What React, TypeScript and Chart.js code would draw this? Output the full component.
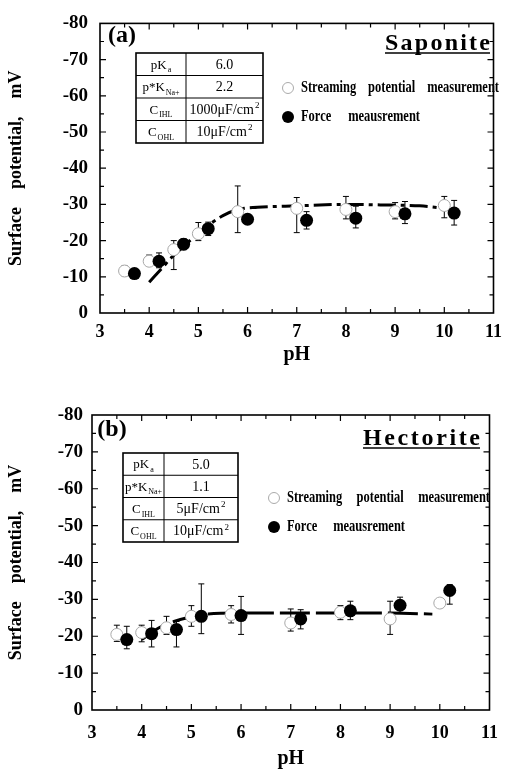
import React, { useEffect, useRef } from "react";
import { Chart, registerables } from "chart.js";

Chart.register(...registerables);

const FONT = "'Liberation Serif', 'Times New Roman', serif";

// ---------- shared axis ticks ----------
const xTickValues = [3, 4, 5, 6, 7, 8, 9, 10, 11];
const yTickValues = [0, -10, -20, -30, -40, -50, -60, -70, -80];
const xTitle = "pH";
const yTitle = "Surface    potential,    mV";
const legendStreaming = ["Streaming", "potential", "measurement"];
const legendForce = ["Force", "meausrement"];

// ---------- (a) Saponite ----------
const sapStreamPH = [3.5, 4.0, 4.5, 5.0, 5.8, 7.0, 8.0, 9.0, 10.0];
const sapStreamMV = [-11.6, -14.3, -17.5, -21.9, -28.0, -28.9, -28.6, -28.0, -29.7];
const sapStreamHi = [-13.0, -16.0, -20.0, -25.0, -35.1, -31.9, -32.2, -30.5, -32.2];
const sapStreamLo = [-10.3, -13.3, -12.0, -20.0, -22.2, -22.2, -26.0, -26.0, -26.3];

const sapForcePH = [3.7, 4.2, 4.7, 5.2, 6.0, 7.2, 8.2, 9.2, 10.2];
const sapForceMV = [-10.9, -14.3, -19.0, -23.3, -25.9, -25.6, -26.2, -27.4, -27.6];
const sapForceHi = [-11.6, -16.6, -20.5, -25.1, -26.5, -28.0, -29.5, -30.8, -31.1];
const sapForceLo = [-10.3, -12.5, -17.5, -21.4, -25.3, -23.2, -23.5, -24.7, -24.3];

const sapFitPH = [4.0, 4.3, 4.45, 4.7, 4.95, 5.2, 5.5, 5.8, 6.2, 7.0, 8.0, 8.9, 9.5, 9.95];
const sapFitMV = [-8.5, -13.0, -15.3, -18.4, -21.5, -24.2, -26.9, -28.6, -29.2, -29.6, -30.0, -29.8, -29.6, -29.0];

const sapTableLeft = [["pK", "a"], ["p*K", "Na+"], ["C", "IHL"], ["C", "OHL"]];
const sapTableRight = [["6.0", ""], ["2.2", ""], ["1000μF/cm", "2"], ["10μF/cm", "2"]];

// ---------- (b) Hectorite ----------
const hecStreamPH = [3.5, 4.0, 4.5, 5.0, 5.8, 7.0, 8.0, 9.0, 10.0];
const hecStreamMV = [-20.5, -21.0, -22.3, -25.4, -25.9, -23.6, -26.5, -24.7, -29.0];
const hecStreamHi = [-23.0, -23.0, -25.4, -28.3, -28.3, -27.4, -28.3, -29.5, -30.0];
const hecStreamLo = [-18.6, -18.5, -20.5, -22.7, -23.6, -21.4, -24.5, -20.5, -28.0];

const hecForcePH = [3.7, 4.2, 4.7, 5.2, 6.0, 7.2, 8.2, 9.2, 10.2];
const hecForceMV = [-19.1, -20.7, -21.8, -25.4, -25.6, -24.7, -26.9, -28.4, -32.4];
const hecForceHi = [-22.7, -24.3, -24.0, -34.2, -30.8, -27.2, -29.5, -30.6, -34.0];
const hecForceLo = [-16.6, -17.1, -17.1, -20.7, -20.5, -22.0, -24.5, -26.3, -28.7];

const hecFitPH = [4.0, 4.35, 4.65, 5.0, 5.3, 6.0, 7.0, 8.0, 9.0, 9.85];
const hecFitMV = [-19.1, -22.3, -24.0, -25.3, -26.0, -26.3, -26.3, -26.3, -26.3, -26.0];

const hecTableLeft = [["pK", "a"], ["p*K", "Na+"], ["C", "IHL"], ["C", "OHL"]];
const hecTableRight = [["5.0", ""], ["1.1", ""], ["5μF/cm", "2"], ["10μF/cm", "2"]];

// ---------- helpers ----------
type Pair = string[];

function drawRich(ctx: CanvasRenderingContext2D, pair: Pair, cx: number, cy: number, size: number, isSup: boolean) {
  const small = Math.round(size * 0.65);
  ctx.font = `${size}px ${FONT}`;
  const w1 = ctx.measureText(pair[0]).width;
  ctx.font = `${small}px ${FONT}`;
  const w2 = pair[1] ? ctx.measureText(pair[1]).width + 1 : 0;
  let x = cx - (w1 + w2) / 2;
  const base = cy + size * 0.33;
  ctx.textAlign = "left";
  ctx.textBaseline = "alphabetic";
  ctx.fillStyle = "#000";
  ctx.font = `${size}px ${FONT}`;
  ctx.fillText(pair[0], x, base);
  x += w1 + 1;
  if (pair[1]) {
    ctx.font = `${small}px ${FONT}`;
    ctx.fillText(pair[1], x, base + (isSup ? -size * 0.42 : size * 0.28));
  }
}

function drawJustified(ctx: CanvasRenderingContext2D, words: string[], x0: number, x1: number, y: number, font: string, sx: number) {
  ctx.font = font;
  const widths = words.map((w) => ctx.measureText(w).width * sx);
  const total = widths.reduce((a, b) => a + b, 0);
  const gap = words.length > 1 ? (x1 - x0 - total) / (words.length - 1) : 0;
  let x = x0;
  ctx.textAlign = "left";
  ctx.textBaseline = "middle";
  ctx.fillStyle = "#000";
  words.forEach((w, i) => {
    ctx.save();
    ctx.translate(x, y);
    ctx.scale(sx, 1);
    ctx.fillText(w, 0, 0);
    ctx.restore();
    x += widths[i] + gap;
  });
}

function drawSpaced(ctx: CanvasRenderingContext2D, text: string, x0: number, x1: number, baseline: number, font: string) {
  ctx.font = font;
  const chars = text.split("");
  const widths = chars.map((c) => ctx.measureText(c).width);
  const total = widths.reduce((a, b) => a + b, 0);
  const gap = (x1 - x0 - total) / (chars.length - 1);
  let x = x0;
  ctx.textAlign = "left";
  ctx.textBaseline = "alphabetic";
  ctx.fillStyle = "#000";
  chars.forEach((c, i) => {
    ctx.fillText(c, x, baseline);
    x += widths[i] + gap;
  });
  ctx.strokeStyle = "#000";
  ctx.lineWidth = 1.6;
  ctx.beginPath();
  ctx.moveTo(x0, baseline + 3);
  ctx.lineTo(x1, baseline + 3);
  ctx.stroke();
}

interface Spec {
  height: number;
  padTop: number;
  padRight: number;
  yWidth: number;
  xHeight: number;
  xTitlePad: number;
  yTickPad: number;
  xTickPad: number;
  streamX: number[]; streamY: number[]; streamHi: number[]; streamLo: number[];
  forceX: number[]; forceY: number[]; forceHi: number[]; forceLo: number[];
  fitX: number[]; fitY: number[]; fitDash: number[];
  tableLeft: Pair[]; tableRight: Pair[];
  table: { x0: number; x1: number; split: number; y0: number; y1: number };
  legend: { cx: number; tx0: number; tx1: number; tx1b: number; y1: number; y2: number };
  name: { text: string; x0: number; x1: number; baseline: number };
  label: { text: string; cx: number; cy: number };
}

function makeConfig(s: Spec): any {
  const decor = {
    id: "decor",
    beforeDatasetsDraw(chart: any) {
      const ctx = chart.ctx as CanvasRenderingContext2D;
      const xs = chart.scales.x;
      const ys = chart.scales.y;
      ctx.save();
      ctx.strokeStyle = "#000";
      ctx.lineWidth = 1;
      const bars = (px: number[], hi: number[], lo: number[]) => {
        px.forEach((xv, i) => {
          const x = xs.getPixelForValue(xv);
          const yh = ys.getPixelForValue(hi[i]);
          const yl = ys.getPixelForValue(lo[i]);
          ctx.beginPath();
          ctx.moveTo(x, yh);
          ctx.lineTo(x, yl);
          ctx.moveTo(x - 3, yh);
          ctx.lineTo(x + 3, yh);
          ctx.moveTo(x - 3, yl);
          ctx.lineTo(x + 3, yl);
          ctx.stroke();
        });
      };
      bars(s.streamX, s.streamHi, s.streamLo);
      bars(s.forceX, s.forceHi, s.forceLo);
      ctx.restore();
    },
    afterDraw(chart: any) {
      const ctx = chart.ctx as CanvasRenderingContext2D;
      const a = chart.chartArea;
      const xs = chart.scales.x;
      const ys = chart.scales.y;
      ctx.save();
      // frame
      ctx.strokeStyle = "#000";
      ctx.lineWidth = 1.6;
      ctx.strokeRect(a.left, a.top, a.right - a.left, a.bottom - a.top);
      // inward tick marks
      ctx.lineWidth = 1.2;
      ctx.beginPath();
      for (let v = xs.min; v <= xs.max + 1e-6; v += 0.5) {
        if (v === xs.min || v === xs.max) continue;
        const x = xs.getPixelForValue(v);
        const len = Math.abs(v - Math.round(v)) < 1e-6 ? 6 : 4;
        ctx.moveTo(x, a.bottom);
        ctx.lineTo(x, a.bottom - len);
        ctx.moveTo(x, a.top);
        ctx.lineTo(x, a.top + len);
      }
      for (let v = -80; v <= 0; v += 5) {
        if (v === -80 || v === 0) continue;
        const y = ys.getPixelForValue(v);
        const len = v % 10 === 0 ? 6 : 4;
        ctx.moveTo(a.left, y);
        ctx.lineTo(a.left + len, y);
        ctx.moveTo(a.right, y);
        ctx.lineTo(a.right - len, y);
      }
      ctx.stroke();

      // panel label
      ctx.fillStyle = "#000";
      ctx.font = `bold 24px ${FONT}`;
      ctx.textAlign = "center";
      ctx.textBaseline = "middle";
      ctx.fillText(s.label.text, s.label.cx, s.label.cy);

      // clay name
      drawSpaced(ctx, s.name.text, s.name.x0, s.name.x1, s.name.baseline, `bold 24px ${FONT}`);

      // parameter table
      const t = s.table;
      const rowH = (t.y1 - t.y0) / s.tableLeft.length;
      ctx.fillStyle = "#fff";
      ctx.fillRect(t.x0, t.y0, t.x1 - t.x0, t.y1 - t.y0);
      ctx.strokeStyle = "#000";
      ctx.lineWidth = 1;
      ctx.beginPath();
      for (let i = 1; i < s.tableLeft.length; i++) {
        ctx.moveTo(t.x0, t.y0 + i * rowH);
        ctx.lineTo(t.x1, t.y0 + i * rowH);
      }
      ctx.moveTo(t.split, t.y0);
      ctx.lineTo(t.split, t.y1);
      ctx.stroke();
      ctx.lineWidth = 1.6;
      ctx.strokeRect(t.x0, t.y0, t.x1 - t.x0, t.y1 - t.y0);
      s.tableLeft.forEach((p, i) => {
        const cy = t.y0 + (i + 0.5) * rowH;
        drawRich(ctx, p, (t.x0 + t.split) / 2, cy, 13, false);
        drawRich(ctx, s.tableRight[i], (t.split + t.x1) / 2, cy, 14, true);
      });

      // legend
      const L = s.legend;
      ctx.beginPath();
      ctx.arc(L.cx, L.y1, 5.5, 0, Math.PI * 2);
      ctx.fillStyle = "#fff";
      ctx.fill();
      ctx.strokeStyle = "#aaa";
      ctx.lineWidth = 1;
      ctx.stroke();
      ctx.beginPath();
      ctx.arc(L.cx, L.y2, 6, 0, Math.PI * 2);
      ctx.fillStyle = "#000";
      ctx.fill();
      drawJustified(ctx, legendStreaming, L.tx0, L.tx1, L.y1, `bold 16px ${FONT}`, 0.78);
      drawJustified(ctx, legendForce, L.tx0, L.tx1b, L.y2, `bold 16px ${FONT}`, 0.78);
      ctx.restore();
    },
  };

  const toPts = (xs: number[], ys: number[]) => xs.map((x, i) => ({ x, y: ys[i] }));

  return {
    type: "scatter",
    data: {
      datasets: [
        {
          label: "Force measurement",
          data: toPts(s.forceX, s.forceY),
          pointRadius: 6.5,
          pointBackgroundColor: "#000",
          pointBorderColor: "#000",
          pointBorderWidth: 0,
          order: 1,
        },
        {
          label: "Streaming potential measurement",
          data: toPts(s.streamX, s.streamY),
          pointRadius: 6,
          pointBackgroundColor: "#fff",
          pointBorderColor: "#a8a8a8",
          pointBorderWidth: 1,
          order: 2,
        },
        {
          type: "line",
          label: "Model",
          data: toPts(s.fitX, s.fitY),
          borderColor: "#000",
          borderWidth: 3,
          borderDash: s.fitDash,
          pointRadius: 0,
          showLine: true,
          fill: false,
          cubicInterpolationMode: "monotone",
          order: 3,
        },
      ],
    },
    options: {
      responsive: false,
      animation: false,
      events: [],
      devicePixelRatio: 1,
      layout: { padding: { left: 0, top: s.padTop, right: s.padRight, bottom: 0 } },
      plugins: { legend: { display: false }, tooltip: { enabled: false } },
      scales: {
        x: {
          type: "linear",
          min: 3,
          max: 11,
          afterBuildTicks: (sc: any) => {
            sc.ticks = xTickValues.map((v) => ({ value: v }));
          },
          afterFit: (sc: any) => {
            sc.height = s.xHeight;
          },
          grid: { display: false, drawTicks: false },
          border: { display: false },
          ticks: {
            padding: s.xTickPad,
            color: "#000",
            maxRotation: 0,
            autoSkip: false,
            font: { family: FONT, size: 18, weight: "bold" },
          },
          title: {
            display: true,
            text: xTitle,
            color: "#000",
            padding: { top: 0, bottom: s.xTitlePad },
            font: { family: FONT, size: 20, weight: "bold" },
          },
        },
        y: {
          type: "linear",
          min: -80,
          max: 0,
          reverse: true,
          afterBuildTicks: (sc: any) => {
            sc.ticks = yTickValues.map((v) => ({ value: v }));
          },
          afterFit: (sc: any) => {
            sc.width = s.yWidth;
          },
          grid: { display: false, drawTicks: false },
          border: { display: false },
          ticks: {
            padding: s.yTickPad,
            color: "#000",
            autoSkip: false,
            callback: (v: any) => String(v),
            font: { family: FONT, size: 19, weight: "bold" },
          },
          title: {
            display: true,
            text: yTitle,
            color: "#000",
            padding: { top: 6, bottom: 0 },
            font: { family: FONT, size: 18, weight: "bold" },
          },
        },
      },
    },
    plugins: [decor],
  };
}

const specA: Spec = {
  height: 385,
  padTop: 16,
  padRight: 11,
  yWidth: 100,
  xHeight: 72,
  xTitlePad: 18,
  yTickPad: 12,
  xTickPad: 9,
  streamX: sapStreamPH, streamY: sapStreamMV, streamHi: sapStreamHi, streamLo: sapStreamLo,
  forceX: sapForcePH, forceY: sapForceMV, forceHi: sapForceHi, forceLo: sapForceLo,
  fitX: sapFitPH, fitY: sapFitMV, fitDash: [18, 5, 4, 5],
  tableLeft: sapTableLeft, tableRight: sapTableRight,
  table: { x0: 136, x1: 263, split: 186, y0: 53, y1: 143 },
  legend: { cx: 288, tx0: 301, tx1: 499, tx1b: 420, y1: 88, y2: 117 },
  name: { text: "Saponite", x0: 385, x1: 490, baseline: 50 },
  label: { text: "(a)", cx: 122, cy: 36 },
};

const specB: Spec = {
  height: 386,
  padTop: 30,
  padRight: 19,
  yWidth: 92,
  xHeight: 61,
  xTitlePad: 0,
  yTickPad: 9,
  xTickPad: 13,
  streamX: hecStreamPH, streamY: hecStreamMV, streamHi: hecStreamHi, streamLo: hecStreamLo,
  forceX: hecForcePH, forceY: hecForceMV, forceHi: hecForceHi, forceLo: hecForceLo,
  fitX: hecFitPH, fitY: hecFitMV, fitDash: [30, 6],
  tableLeft: hecTableLeft, tableRight: hecTableRight,
  table: { x0: 123, x1: 238, split: 164, y0: 68, y1: 157 },
  legend: { cx: 274, tx0: 287, tx1: 490, tx1b: 405, y1: 113, y2: 142 },
  name: { text: "Hectorite", x0: 363, x1: 480, baseline: 60 },
  label: { text: "(b)", cx: 112, cy: 45 },
};

function Panel({ spec }: { spec: Spec }) {
  const ref = useRef<HTMLCanvasElement | null>(null);
  useEffect(() => {
    if (!ref.current) return;
    const chart = new Chart(ref.current, makeConfig(spec));
    return () => chart.destroy();
  }, [spec]);
  return <canvas ref={ref} width={511} height={spec.height} style={{ display: "block", width: 511, height: spec.height }} />;
}

export default function App() {
  return (
    <div style={{ position: "fixed", left: 0, top: 0, width: 511, height: 771, background: "#fff" }}>
      <Panel spec={specA} />
      <Panel spec={specB} />
    </div>
  );
}
